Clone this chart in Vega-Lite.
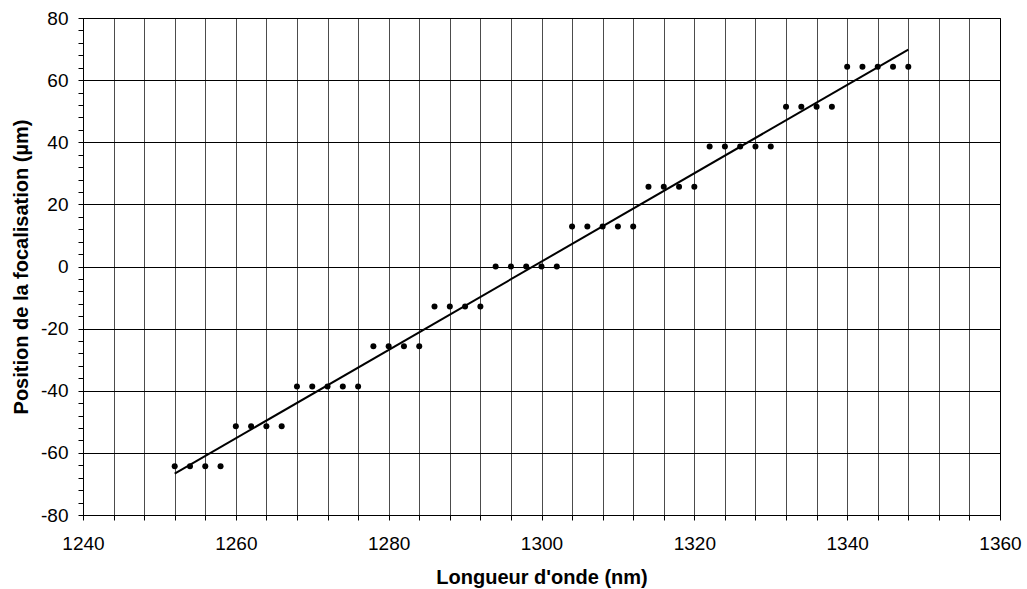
{
  "$schema": "https://vega.github.io/schema/vega-lite/v6.json",
  "width": 917,
  "height": 497,
  "autosize": {"type": "none"},
  "padding": {"left": 83, "top": 18, "right": 27, "bottom": 74},
  "background": "white",
  "config": {
    "view": {"stroke": "black", "strokeWidth": 1}
  },
  "data": {
    "values": [
      {"x": 1252, "y": -64.3}, {"x": 1254, "y": -64.3}, {"x": 1256, "y": -64.3}, {"x": 1258, "y": -64.3},
      {"x": 1260, "y": -51.4}, {"x": 1262, "y": -51.4}, {"x": 1264, "y": -51.4}, {"x": 1266, "y": -51.4},
      {"x": 1268, "y": -38.6}, {"x": 1270, "y": -38.6}, {"x": 1272, "y": -38.6}, {"x": 1274, "y": -38.6}, {"x": 1276, "y": -38.6},
      {"x": 1278, "y": -25.7}, {"x": 1280, "y": -25.7}, {"x": 1282, "y": -25.7}, {"x": 1284, "y": -25.7},
      {"x": 1286, "y": -12.9}, {"x": 1288, "y": -12.9}, {"x": 1290, "y": -12.9}, {"x": 1292, "y": -12.9},
      {"x": 1294, "y": 0}, {"x": 1296, "y": 0}, {"x": 1298, "y": 0}, {"x": 1300, "y": 0}, {"x": 1302, "y": 0},
      {"x": 1304, "y": 12.9}, {"x": 1306, "y": 12.9}, {"x": 1308, "y": 12.9}, {"x": 1310, "y": 12.9}, {"x": 1312, "y": 12.9},
      {"x": 1314, "y": 25.7}, {"x": 1316, "y": 25.7}, {"x": 1318, "y": 25.7}, {"x": 1320, "y": 25.7},
      {"x": 1322, "y": 38.6}, {"x": 1324, "y": 38.6}, {"x": 1326, "y": 38.6}, {"x": 1328, "y": 38.6}, {"x": 1330, "y": 38.6},
      {"x": 1332, "y": 51.4}, {"x": 1334, "y": 51.4}, {"x": 1336, "y": 51.4}, {"x": 1338, "y": 51.4},
      {"x": 1340, "y": 64.3}, {"x": 1342, "y": 64.3}, {"x": 1344, "y": 64.3}, {"x": 1346, "y": 64.3}, {"x": 1348, "y": 64.3}
    ]
  },
  "layer": [
    {
      "mark": {"type": "line", "color": "black", "strokeWidth": 2},
      "transform": [{"regression": "y", "on": "x"}],
      "encoding": {
        "x": {"field": "x", "type": "quantitative"},
        "y": {"field": "y", "type": "quantitative"}
      }
    },
    {
      "mark": {"type": "circle", "color": "black", "opacity": 1, "size": 36},
      "encoding": {
        "x": {
          "field": "x",
          "type": "quantitative",
          "scale": {"domain": [1240, 1360], "nice": false, "zero": false},
          "axis": {
            "title": "Longueur d'onde (nm)",
            "values": [1240, 1244, 1248, 1252, 1256, 1260, 1264, 1268, 1272, 1276, 1280, 1284, 1288, 1292, 1296, 1300, 1304, 1308, 1312, 1316, 1320, 1324, 1328, 1332, 1336, 1340, 1344, 1348, 1352, 1356, 1360],
            "tickCount": 200,
            "labelExpr": "datum.value % 20 === 0 ? '' + datum.value : ''",
            "labelOverlap": false,
            "labelFont": "Liberation Sans",
            "labelFontSize": 19,
            "labelColor": "black",
            "labelPadding": 14,
            "titleFont": "Liberation Sans",
            "titleFontSize": 20,
            "titleFontWeight": "bold",
            "titleColor": "black",
            "titlePadding": 14,
            "labelFlush": false,
            "domainColor": "black",
            "tickColor": "black",
            "tickSize": 5,
            "grid": true,
            "gridColor": "black",
            "gridOpacity": 0.7
          }
        },
        "y": {
          "field": "y",
          "type": "quantitative",
          "scale": {"domain": [-80, 80], "nice": false, "zero": false},
          "axis": {
            "title": "Position de la focalisation (µm)",
            "values": [-80, -76, -72, -68, -64, -60, -56, -52, -48, -44, -40, -36, -32, -28, -24, -20, -16, -12, -8, -4, 0, 4, 8, 12, 16, 20, 24, 28, 32, 36, 40, 44, 48, 52, 56, 60, 64, 68, 72, 76, 80],
            "tickCount": 200,
            "labelExpr": "datum.value % 20 === 0 ? '' + datum.value : ''",
            "labelOverlap": false,
            "labelFont": "Liberation Sans",
            "labelFontSize": 19,
            "labelColor": "black",
            "labelPadding": 10,
            "titleFont": "Liberation Sans",
            "titleFontSize": 20,
            "titleFontWeight": "bold",
            "titleColor": "black",
            "titlePadding": 9,
            "labelFlush": false,
            "domainColor": "black",
            "tickColor": "black",
            "tickSize": 5,
            "grid": true,
            "gridColor": "black",
            "gridOpacity": {"condition": {"test": "datum.value % 20 === 0", "value": 1}, "value": 0}
          }
        }
      }
    }
  ]
}
